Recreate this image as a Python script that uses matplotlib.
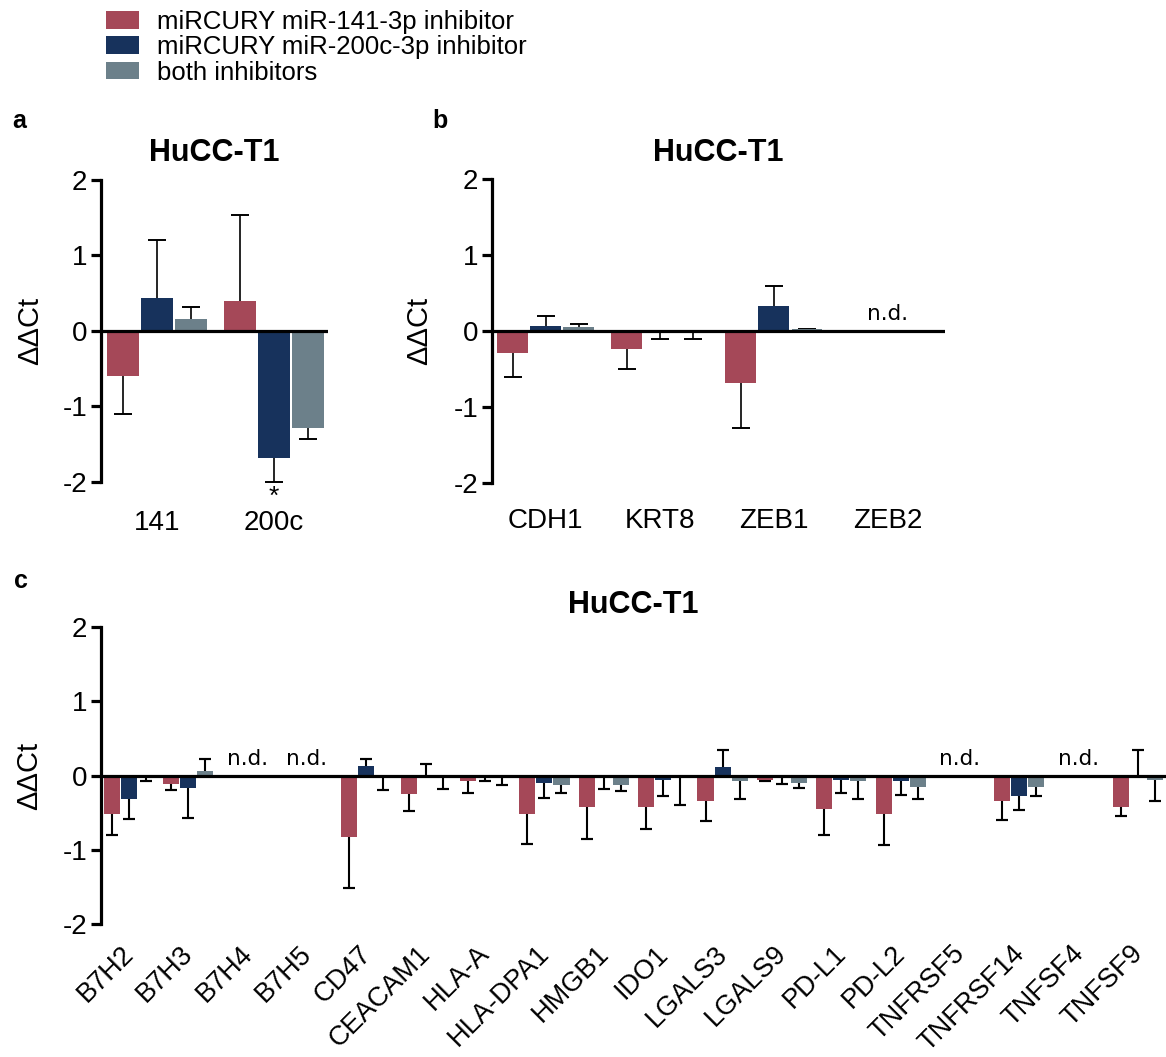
import numpy as np
import matplotlib
matplotlib.use("Agg")
import matplotlib.pyplot as plt
import matplotlib.transforms as mtransforms

plt.rcParams['font.family'] = ['Liberation Sans', 'DejaVu Sans']
plt.rcParams['mathtext.fontset'] = 'custom'
plt.rcParams['mathtext.rm'] = 'Liberation Sans'
plt.rcParams['mathtext.it'] = 'Liberation Sans'

# ---------------- data ----------------
series_labels = ['miRCURY miR-141-3p inhibitor', 'miRCURY miR-200c-3p inhibitor', 'both inhibitors']
colors = ['#A54858', '#17325C', '#6C808A']

a_categories = ['141', '200c']
a_red = [-0.60, 0.40]
a_red_err = [0.50, 1.14]
a_navy = [0.44, -1.68]
a_navy_err = [0.77, 0.32]
a_gray = [0.16, -1.28]
a_gray_err = [0.16, 0.15]

b_categories = ['CDH1', 'KRT8', 'ZEB1', 'ZEB2']
nan = np.nan
b_red = [-0.29, -0.24, -0.69, nan]
b_red_err = [0.32, 0.26, 0.59, nan]
b_navy = [0.06, -0.01, 0.33, nan]
b_navy_err = [0.14, 0.10, 0.26, nan]
b_gray = [0.05, -0.01, 0.02, nan]
b_gray_err = [0.04, 0.10, 0.01, nan]

c_categories = ['B7H2', 'B7H3', 'B7H4', 'B7H5', 'CD47', 'CEACAM1', 'HLA-A', 'HLA-DPA1',
                'HMGB1', 'IDO1', 'LGALS3', 'LGALS9', 'PD-L1', 'PD-L2', 'TNFRSF5',
                'TNFRSF14', 'TNFSF4', 'TNFSF9']
c_red = [-0.52, -0.11, nan, nan, -0.83, -0.25, -0.08, -0.52, -0.42, -0.42, -0.35, -0.06,
         -0.45, -0.52, nan, -0.35, nan, -0.43]
c_red_err = [0.28, 0.08, nan, nan, 0.68, 0.23, 0.15, 0.40, 0.43, 0.30, 0.26, 0.01,
             0.35, 0.41, nan, 0.25, nan, 0.12]
c_navy = [-0.31, -0.17, nan, nan, 0.13, 0.01, -0.01, -0.10, -0.01, -0.06, 0.12, -0.01,
          -0.06, -0.08, nan, -0.28, nan, 0.01]
c_navy_err = [0.28, 0.40, nan, nan, 0.09, 0.15, 0.07, 0.20, 0.17, 0.21, 0.22, 0.10,
              0.18, 0.18, nan, 0.18, nan, 0.33]
c_gray = [-0.01, 0.06, nan, nan, -0.01, -0.04, -0.04, -0.13, -0.13, -0.01, -0.07, -0.10,
          -0.08, -0.16, nan, -0.16, nan, -0.06]
c_gray_err = [0.07, 0.16, nan, nan, 0.18, 0.14, 0.09, 0.10, 0.08, 0.39, 0.24, 0.07,
              0.24, 0.15, nan, 0.12, nan, 0.28]

title_text = 'HuCC-T1'
ylabel_text = '\u0394\u0394Ct'
yticks = [-2, -1, 0, 1, 2]

# ---------------- figure ----------------
W, H = 1166, 1057
fig = plt.figure(figsize=(W / 100, H / 100), dpi=100)


def px_axes(x0, x1, y0, y1):
    return fig.add_axes([x0 / W, 1 - y1 / H, (x1 - x0) / W, (y1 - y0) / H])


def draw_panel(ax, cats, series, errs, width, step, xlim, capsize, elw, rot=False, xpad=18):
    x = np.arange(len(cats))
    handles = []
    for i, (vals, err) in enumerate(zip(series, errs)):
        off = (i - 1) * step
        v = np.asarray(vals, float)
        e = np.asarray(err, float)
        b = ax.bar(x + off, v, width, color=colors[i], zorder=2, label=series_labels[i])
        handles.append(b)
        # one-sided error bar (pointing away from zero)
        end = v + np.where(v < 0, -e, e)
        ax.vlines(x + off, 0, end, color='black', lw=elw, zorder=1)
        ax.errorbar(x + off, end, yerr=np.zeros_like(end), fmt='none', ecolor='black',
                    elinewidth=elw, capsize=capsize, capthick=elw, zorder=1)
    ax.axhline(0, color='black', lw=2.3, zorder=3)
    ax.set_xlim(*xlim)
    ax.set_ylim(-2, 2)
    ax.set_yticks(yticks)
    ax.set_yticklabels([str(t) for t in yticks])
    for s in ['top', 'right', 'bottom']:
        ax.spines[s].set_visible(False)
    ax.spines['left'].set_linewidth(2.3)
    ax.spines['left'].set_bounds(-2, 2)
    ax.tick_params(axis='y', direction='out', length=7, width=2.3, labelsize=20, pad=3)
    ax.set_xticks(x)
    if rot:
        ax.set_xticklabels(cats, rotation=45, ha='right', rotation_mode='default')
        ax.tick_params(axis='x', length=0, labelsize=19.5, pad=12)
        shift = mtransforms.ScaledTranslation(10 / 100, 0, fig.dpi_scale_trans)
        for lab in ax.get_xticklabels():
            lab.set_transform(lab.get_transform() + shift)
    else:
        ax.set_xticklabels(cats)
        ax.tick_params(axis='x', length=0, labelsize=20, pad=xpad)
    # n.d. labels for categories without data
    allv = np.vstack([np.asarray(s, float) for s in series])
    for j in range(len(cats)):
        if np.all(np.isnan(allv[:, j])):
            ax.annotate('n.d.', xy=(x[j], 0), xytext=(0, 5), textcoords='offset points',
                        ha='center', va='bottom', fontsize=15.5, family='DejaVu Sans')
    ax.patch.set_alpha(0)
    return handles


# panel a
ax_a = px_axes(101, 328, 180, 482)
handles = draw_panel(ax_a, a_categories, [a_red, a_navy, a_gray],
                     [a_red_err, a_navy_err, a_gray_err], 0.27, 0.29, (-0.48, 1.46), 6.5, 1.2,
                     xpad=20.5)
# asterisk under 200c miR-200c bar
ax_a.annotate(r'$*$', xy=(1, a_navy[1] - a_navy_err[1]), xytext=(0, -1.5), textcoords='offset points',
              ha='center', va='top', fontsize=19)

# panel b
ax_b = px_axes(492, 945, 179, 483)
draw_panel(ax_b, b_categories, [b_red, b_navy, b_gray],
           [b_red_err, b_navy_err, b_gray_err], 0.27, 0.29, (-0.47, 3.5), 6.5, 1.2)

# panel c
ax_c = px_axes(101, 1166, 627, 924)
draw_panel(ax_c, c_categories, [c_red, c_navy, c_gray],
           [c_red_err, c_navy_err, c_gray_err], 0.27, 0.287, (-0.47, 17.47), 4, 1.5, rot=True)

# titles
for xc, yb in [(214, 161), (718, 161), (633, 613)]:
    fig.text(xc / W, 1 - yb / H, title_text, ha='center', va='baseline',
             fontsize=22, fontweight='bold')

# panel letters
for lx, ly, t in [(12, 128, 'a'), (432, 128, 'b'), (14, 588, 'c')]:
    fig.text(lx / W, 1 - ly / H, t, ha='left', va='baseline', fontsize=18, fontweight='bold')

# y labels
for xc, yc in [(30, 331), (419, 331), (29, 776)]:
    fig.text(xc / W, 1 - yc / H, ylabel_text, rotation=90, ha='center', va='center', fontsize=21)

# legend
fig.legend(handles=handles, labels=series_labels, loc='upper left',
           bbox_to_anchor=(106 / W, 1 - 10 / H), frameon=False, fontsize=18.5,
           handlelength=1.28, handleheight=0.68, handletextpad=0.72, labelspacing=0.05,
           borderpad=0, borderaxespad=0)

fig.savefig('out.png', dpi=100)
